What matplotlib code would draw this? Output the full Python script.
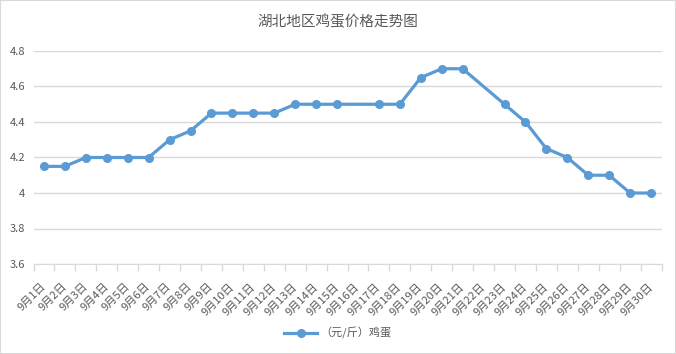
import numpy as np
import matplotlib
matplotlib.use('Agg')
import matplotlib.pyplot as plt
from matplotlib.patches import Rectangle

plt.rcParams['font.family'] = ['Noto Sans CJK SC', 'DejaVu Sans']

# 数据
dates = ['9月%d日' % d for d in range(1, 31)]
prices = [4.15, 4.15, 4.2, 4.2, 4.2, 4.2, 4.3, 4.35, 4.45, 4.45,
          4.45, 4.45, 4.5, 4.5, 4.5, None, 4.5, 4.5, 4.65, 4.7,
          4.7, None, 4.5, 4.4, 4.25, 4.2, 4.1, 4.1, 4.0, 4.0]
series_name = '（元/斤）鸡蛋'
title = '湖北地区鸡蛋价格走势图'

gray = '#595959'
blue = '#5B9BD5'

fig = plt.figure(figsize=(6.76, 3.54), dpi=100)
ax = fig.add_axes([33.5 / 676, 1 - 264 / 354, (661.5 - 33.5) / 676, (264 - 51) / 354 * 1.0])

# 空值处直接连线（同 Excel 设置）
xs = [i for i, v in enumerate(prices) if v is not None]
ys = [v for v in prices if v is not None]
ax.plot(xs, ys, color=blue, lw=2.3, marker='o', markersize=5.5, label=series_name)

ax.set_xlim(-0.5, len(dates) - 0.5)
ax.set_ylim(3.6, 4.8)
ax.set_yticks(np.arange(3.6, 4.81, 0.2))
ax.set_yticklabels(['3.6', '3.8', '4', '4.2', '4.4', '4.6', '4.8'])
ax.yaxis.grid(True, color='#d9d9d9', lw=1)
ax.set_axisbelow(True)

ax.set_xticks(range(len(dates)))
ax.set_xticklabels(dates, rotation=45, ha='right', va='center', rotation_mode='anchor')
ax.set_xticks(np.arange(-0.5, len(dates), 1), minor=True)
ax.tick_params(axis='x', which='major', length=0, pad=15, labelsize=8, labelcolor=gray)
ax.tick_params(axis='x', which='minor', length=5, color='#d9d9d9', width=1)
ax.tick_params(axis='y', length=0, labelsize=8, labelcolor=gray, pad=6)

for s in ['top', 'right', 'left']:
    ax.spines[s].set_visible(False)
ax.spines['bottom'].set_color('#d9d9d9')

fig.suptitle(title, y=1 - 22 / 354, va='center', fontsize=10.5, color=gray)

fig.legend(loc='center', bbox_to_anchor=(0.5, 1 - 333 / 354), frameon=False,
           fontsize=8, labelcolor=gray, handlelength=3, handletextpad=0.3)

# 外框
fig.patches.append(Rectangle((0, 0), 1, 1, transform=fig.transFigure, fill=False,
                             edgecolor='#d9d9d9', lw=1.5))

fig.savefig('out.png', dpi=100)
